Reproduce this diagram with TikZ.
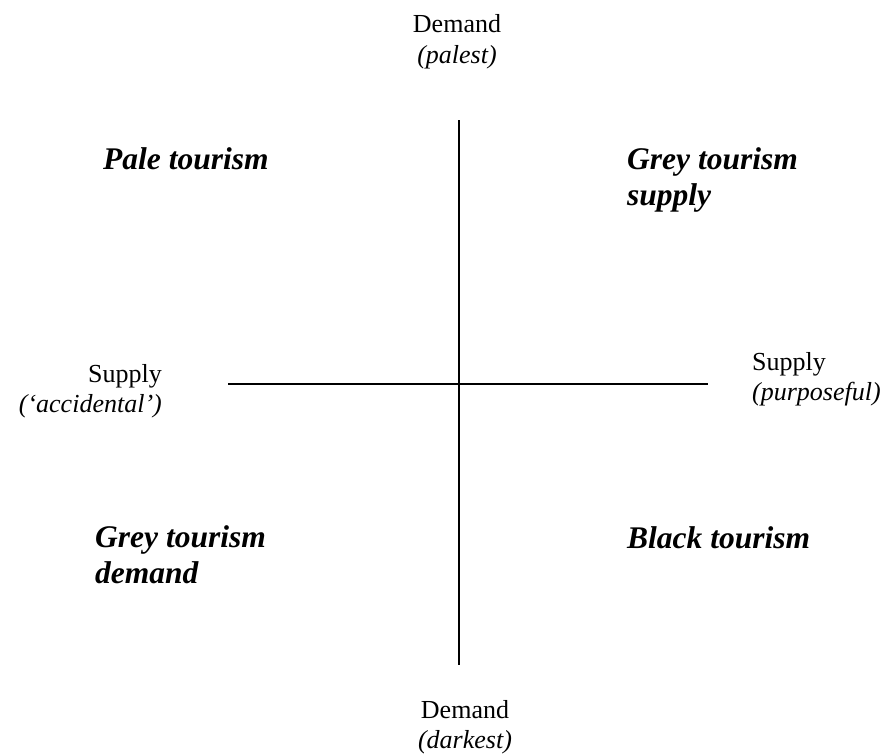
\documentclass[tikz,border=0pt]{standalone}
\usepackage{fontspec}
\setmainfont{Liberation Serif}
\begin{document}
\begin{tikzpicture}[x=1pt,y=-1pt,
  axislabel/.style={inner sep=0pt,font=\fontsize{26}{30}\selectfont},
  quadrant/.style={inner sep=0pt,align=left,font=\fontsize{31.5}{36}\selectfont\bfseries\itshape},
  axis/.style={line width=1.8pt}]
\useasboundingbox (0,0) rectangle (885,755);
% axes
\coordinate (top) at (459,120);
\coordinate (bottom) at (459,665);
\coordinate (left) at (228,384);
\coordinate (right) at (708,384);
\draw[axis] (top) -- (bottom);
\draw[axis] (left) -- (right);
% axis end labels
\node[axislabel,anchor=base] (dtop) at (457,32) {Demand};
\node[axislabel,anchor=base] (dtopsub) at (457,63) {\itshape (palest)};
\node[axislabel,anchor=base] (dbot) at (465,718) {Demand};
\node[axislabel,anchor=base] (dbotsub) at (465,748) {\itshape (darkest)};
\node[axislabel,anchor=base east] (sleft) at (162,382) {Supply};
\node[axislabel,anchor=base east] (sleftsub) at (162,412) {\itshape (‘accidental’)};
\node[axislabel,anchor=base west] (sright) at (752,370) {Supply};
\node[axislabel,anchor=base west] (srightsub) at (752,400) {\itshape (purposeful)};
% quadrant names (two-line names are anchored at the baseline of their last line)
\node[quadrant,anchor=base west] (pale) at (103,169) {Pale tourism};
\node[quadrant,anchor=base west] (greysup) at (627,205) {Grey tourism\\supply};
\node[quadrant,anchor=base west] (greydem) at (95,583) {Grey tourism\\demand};
\node[quadrant,anchor=base west] (black) at (627,548) {Black tourism};
\end{tikzpicture}
\end{document}
